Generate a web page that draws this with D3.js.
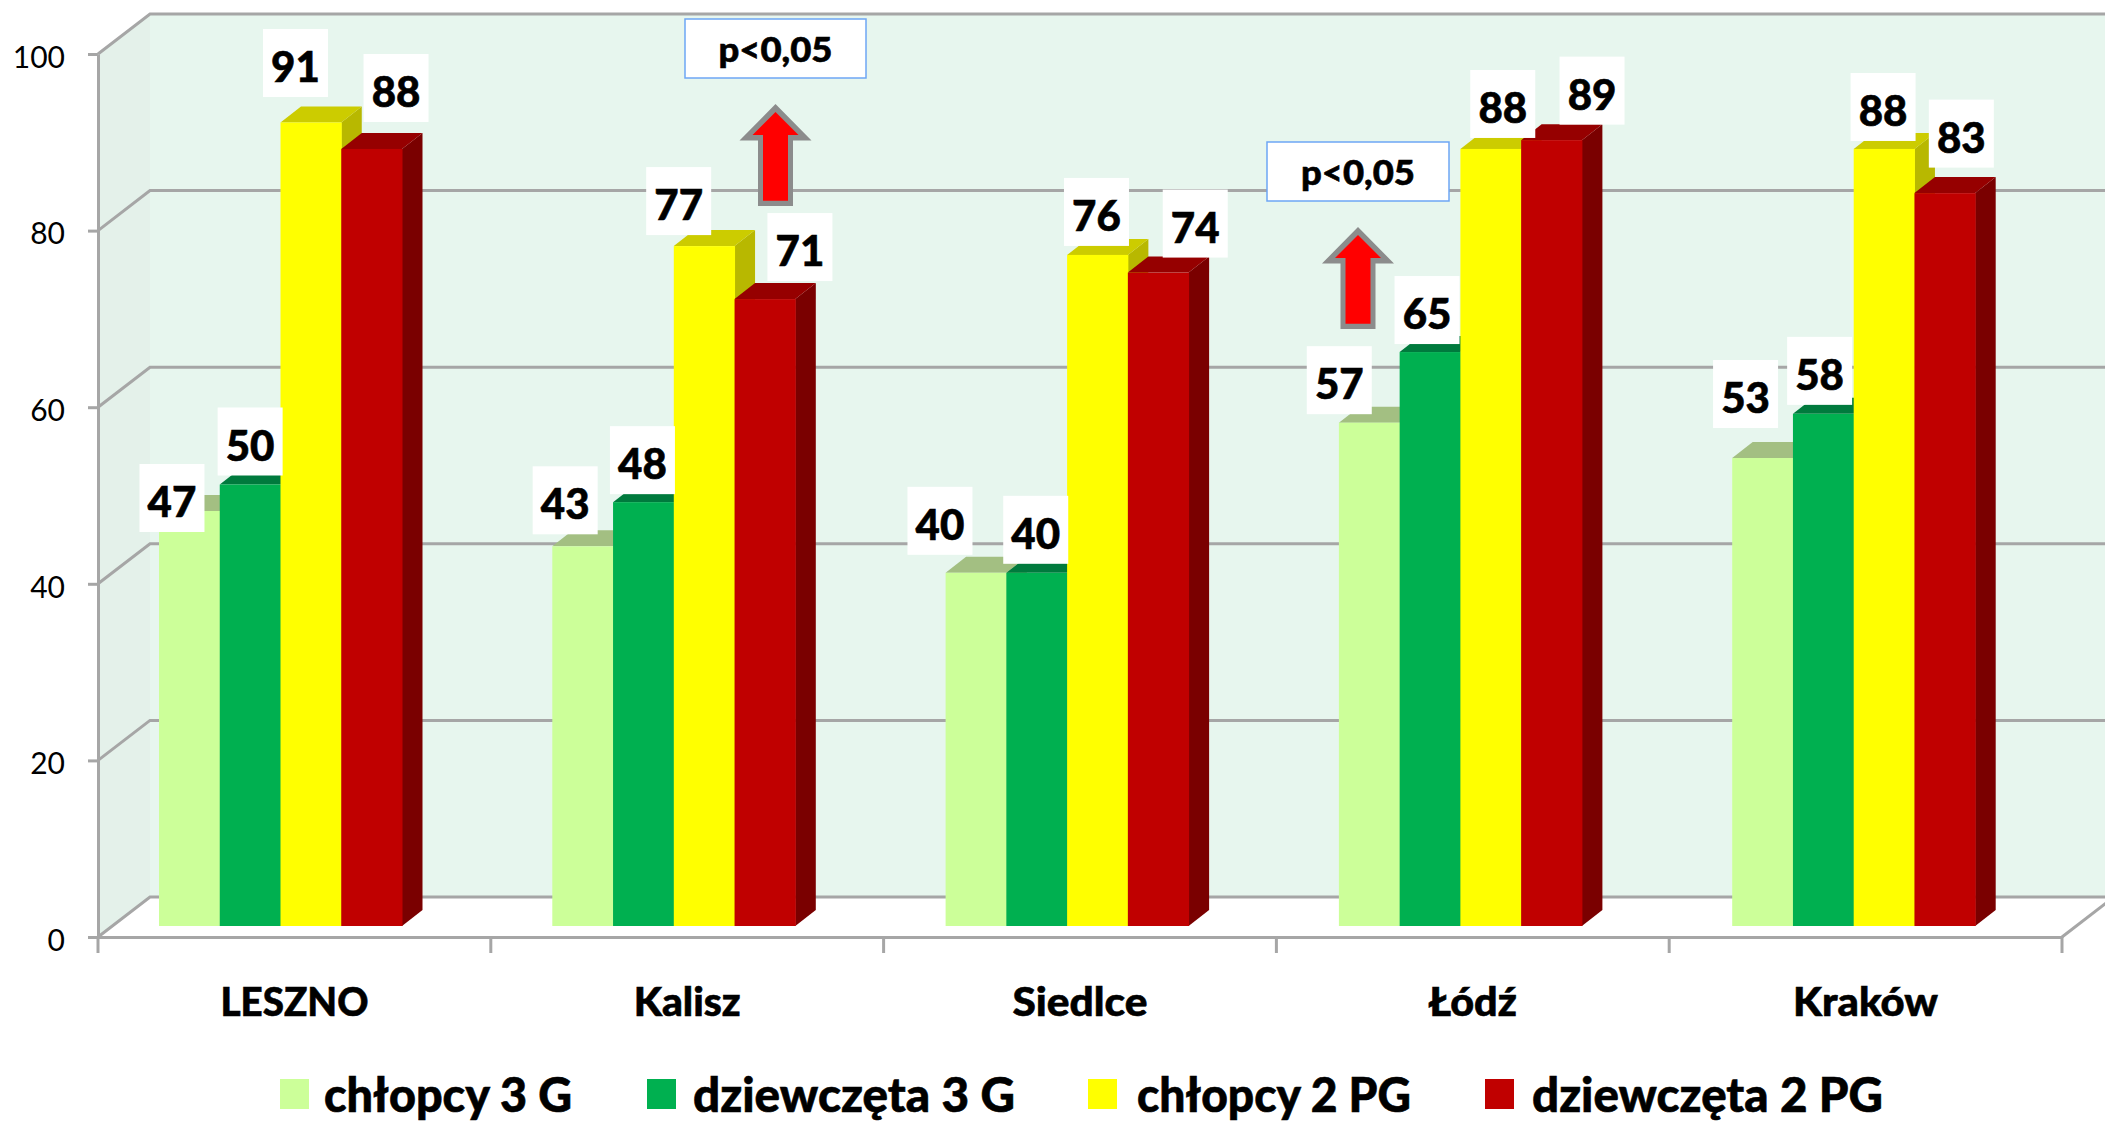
<!DOCTYPE html>
<html lang="pl">
<head>
<meta charset="utf-8">
<script src="https://cdn.jsdelivr.net/npm/d3@7"></script>
<style>
html,body{margin:0;padding:0;background:#fff;overflow:hidden}
svg{display:block}
text{font-family:Lato,"Open Sans",sans-serif;fill:#000}
.heavy{stroke:#000;stroke-width:0.6px}
</style>
</head>
<body>
<div id="chart"></div>
<script>
// ---- data
const categories = ["LESZNO","Kalisz","Siedlce","Łódź","Kraków"];
const seriesNames = ["chłopcy 3 G","dziewczęta 3 G","chłopcy 2 PG","dziewczęta 2 PG"];
const chlopcy3G = [47,43,40,57,53];
const dziewczeta3G = [50,48,40,65,58];
const chlopcy2PG = [91,77,76,88,88];
const dziewczeta2PG = [88,71,74,89,83];
const yTicks = [0,20,40,60,80,100];
const noteText = "p<0,05";

// ---- layout and style (separate from the values)
const W = 2105, H = 1121;
const frontColors = ["#CCFF99","#00B050","#FFFF00","#C00000"];
const topColors   = ["#A3BF82","#007A3D","#CCCC00","#960000"];
const sideColors  = ["#A3BF82","#006B35","#B8B800","#7A0000"];
const labelNudges = [ // label-box centre relative to (bar centre, bar top), per series then category
  [[-17.4,-13],[-17.5,-46],[-36,-52],[-30,-42.5],[-17,-64]],
  [[0,-43],[-1,-42],[-1,-43],[-3,-42],[-3.7,-43]],
  [[-15.4,-59.5],[-25.5,-45],[-1,-43],[12,-45],[-1,-42]],
  [[24.4,-61],[35,-52],[37,-49],[40.5,-49.5],[16.5,-59.5]]
];
const categoryLabelWidths = [148,107,135,88,145];
const legendX = [[280,324,248],[647,693,322],[1088,1137,274],[1485,1532,351]]; // swatch x, text x, text width
const notes = [
  {box:[685,19,181,59], arrowX:775.5, arrowTip:104},
  {box:[1267,142,182,59], arrowX:1358, arrowTip:227}
];

const svg = d3.select("#chart").append("svg").attr("width",W).attr("height",H).attr("viewBox",`0 0 ${W} ${H}`);

// ---- scales
const y = d3.scaleLinear().domain([0,100]).range([937,54]);
const x0 = d3.scaleBand().domain(categories).range([98,2062]).padding(0);
const xBars = d3.scaleBand().domain(categories).range([98,2064.5]).padding(0);
const x1 = d3.scaleBand().domain(seriesNames).range([61,304]).padding(0);
const wallDX = 52, wallDY = -40;      // back wall shift
const barDX = 20.5, barDY = -16;      // bar depth
const floorLift = 11;                 // bars stand this far behind the front axis

const seriesValues = [chlopcy3G,dziewczeta3G,chlopcy2PG,dziewczeta2PG];

// ---- walls
const x2 = x0.range()[1];
svg.append("polygon").attr("fill","#E7F6EE")
  .attr("points",[[x0.range()[0]+wallDX,y(100)+wallDY],[W,y(100)+wallDY],[W,y(0)+wallDY],[x0.range()[0]+wallDX,y(0)+wallDY]].join(" "));
svg.append("polygon").attr("fill","#E4F1EA")
  .attr("points",[[98,y(100)],[98+wallDX,y(100)+wallDY],[98+wallDX,y(0)+wallDY],[98,y(0)]].join(" "));

// gridlines on the walls
const grid = svg.append("g").attr("fill","none").attr("stroke","#A6A6A6").attr("stroke-width",3);
grid.selectAll("path").data(yTicks).join("path")
  .attr("d",d=>`M98,${y(d)}L${98+wallDX},${y(d)+wallDY}L${W},${y(d)+wallDY}`);
grid.append("path").attr("d",`M${x2},${y(0)}L${x2+wallDX},${y(0)+wallDY}`);

// ---- axes
const axisStyle = g=>{
  g.selectAll("path.domain").attr("stroke","#A6A6A6").attr("stroke-width",3);
  g.selectAll("line").attr("stroke","#A6A6A6").attr("stroke-width",3);
};
const yAxis = svg.append("g").attr("transform","translate(98,0)")
  .call(d3.axisLeft(y).tickValues(yTicks).tickSize(10).tickSizeOuter(0).tickPadding(23));
yAxis.call(axisStyle);
yAxis.selectAll("text").attr("font-size",30).attr("font-family","Lato").attr("dy","0.44em");

const xAxis = svg.append("g").attr("transform",`translate(0,${y(0)})`)
  .call(d3.axisBottom(x0).tickSize(0).tickPadding(67));
xAxis.call(axisStyle);
xAxis.selectAll("text").attr("font-size",40).attr("font-weight",900).attr("font-family","Lato").attr("dy","0.3em")
  .attr("class","heavy")
  .attr("textLength",(d,i)=>categoryLabelWidths[i]).attr("lengthAdjust","spacingAndGlyphs");
const tickEdges = categories.map(c=>x0(c)).concat([x2]);
xAxis.selectAll("line.edge").data(tickEdges).join("line").attr("class","edge")
  .attr("x1",d=>d).attr("x2",d=>d).attr("y1",0).attr("y2",16)
  .attr("stroke","#A6A6A6").attr("stroke-width",3);

// ---- bars
const barsG = svg.append("g");
categories.forEach((cat,ci)=>{
  const g = barsG.append("g");
  seriesNames.forEach((s,si)=>{
    const v = seriesValues[si][ci];
    const xl = xBars(cat)+x1(s), w = x1.bandwidth();
    const yt = y(v)-floorLift, yb = y(0)-floorLift;
    g.append("polygon").attr("fill",sideColors[si])
      .attr("points",[[xl+w,yt],[xl+w+barDX,yt+barDY],[xl+w+barDX,yb+barDY],[xl+w,yb]].join(" "));
    g.append("polygon").attr("fill",topColors[si])
      .attr("points",[[xl,yt],[xl+barDX,yt+barDY],[xl+w+barDX,yt+barDY],[xl+w,yt]].join(" "));
    g.append("rect").attr("x",xl).attr("y",yt).attr("width",w+0.5).attr("height",yb-yt).attr("fill",frontColors[si]);
  });
});

// ---- value labels
const labelsG = svg.append("g");
categories.forEach((cat,ci)=>{
  seriesNames.forEach((s,si)=>{
    const v = seriesValues[si][ci];
    const [dx,dy] = labelNudges[si][ci];
    const cx = xBars(cat)+x1(s)+x1.bandwidth()/2+dx, cy = y(v)-floorLift+dy;
    labelsG.append("rect").attr("x",cx-32.5).attr("y",cy-34).attr("width",65).attr("height",68).attr("fill","#fff");
    labelsG.append("text").attr("class","heavy").attr("x",cx).attr("y",cy+4).attr("dy","0.36em").attr("text-anchor","middle")
      .attr("font-size",42).attr("font-weight",900).text(v);
  });
});

// ---- significance notes and arrows
const arrowOuter = [[0,0],[36,36.5],[17.5,36.5],[17.5,102],[-17.5,102],[-17.5,36.5],[-36,36.5]];
const arrowInner = [[0,8],[23,31],[12.5,31],[12.5,96.7],[-12.5,96.7],[-12.5,31],[-23,31]];
const notesG = svg.append("g");
notes.forEach(n=>{
  const [bx,by,bw,bh] = n.box;
  notesG.append("rect").attr("x",bx).attr("y",by).attr("width",bw).attr("height",bh)
    .attr("fill","#fff").attr("stroke","#6EA6F5").attr("stroke-width",1.5);
  notesG.append("text").attr("class","heavy").attr("x",bx+bw/2).attr("y",by+bh/2+13).attr("text-anchor","middle")
    .attr("font-size",35).attr("font-weight",900)
    .attr("textLength",114).attr("lengthAdjust","spacingAndGlyphs").text(noteText);
  const g = notesG.append("g").attr("transform",`translate(${n.arrowX},${n.arrowTip})`);
  g.append("polygon").attr("fill","#8C8C8C").attr("points",arrowOuter.join(" "));
  g.append("polygon").attr("fill","#FF0000").attr("points",arrowInner.join(" "));
});

// ---- legend
const legend = svg.append("g");
seriesNames.forEach((s,i)=>{
  const [sx,tx,tw] = legendX[i];
  legend.append("rect").attr("x",sx).attr("y",1079).attr("width",29).attr("height",30).attr("fill",frontColors[i]);
  legend.append("text").attr("class","heavy").attr("x",tx).attr("y",1112).attr("font-size",47).attr("font-weight",900)
    .attr("textLength",tw).attr("lengthAdjust","spacingAndGlyphs").text(s);
});
</script>
</body>
</html>
